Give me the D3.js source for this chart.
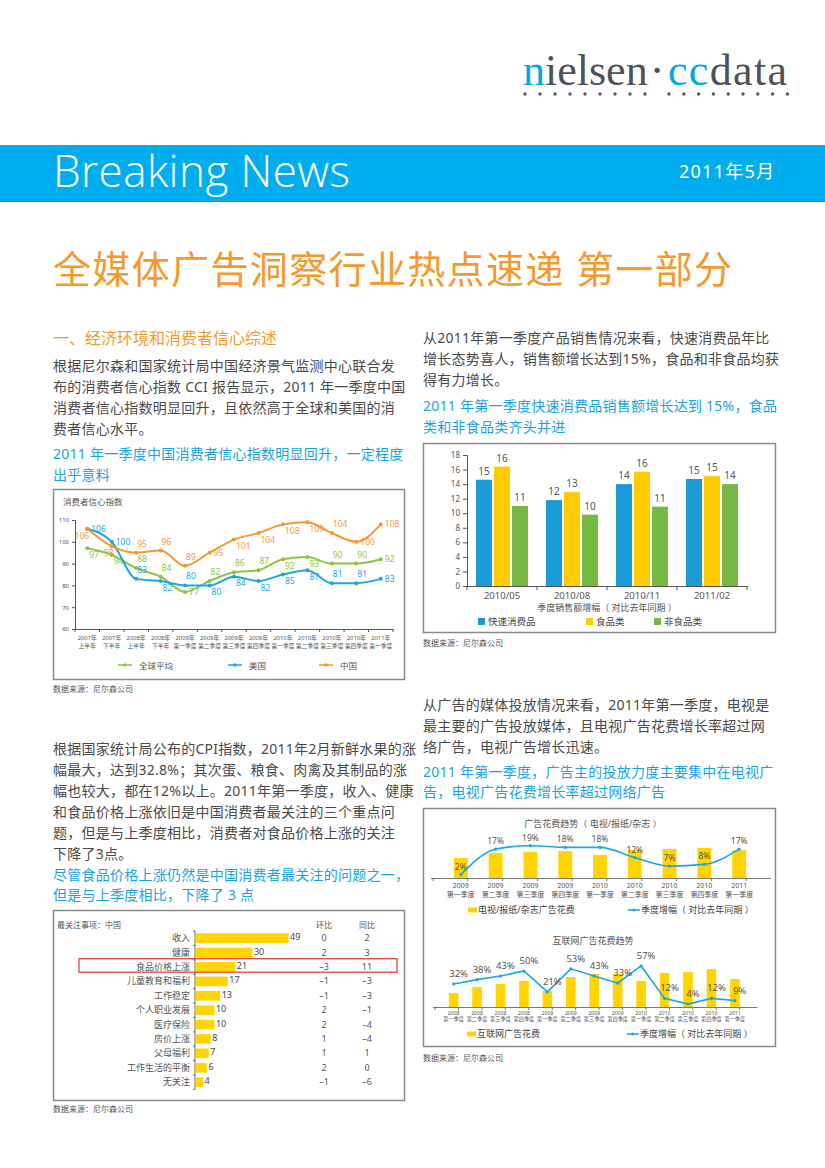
<!DOCTYPE html>
<html><head><meta charset="utf-8">
<script src="https://cdn.jsdelivr.net/npm/d3@7"></script>
<style>
body{margin:0;background:#fff;}
svg{display:block;font-family:"Noto Sans","Noto Sans CJK SC",sans-serif;}
</style></head><body>
<svg id="page" width="825" height="1168"></svg>
<script>
// ---------------- DATA ----------------
const cciPeriods = ["2007年|上半年","2007年|下半年","2008年|上半年","2008年|下半年","2009年|第一季度","2009年|第二季度","2009年|第三季度","2009年|第四季度","2010年|第一季度","2010年|第二季度","2010年|第三季度","2010年|第四季度","2011年|第一季度"];
const cciGlobal = [97,94,88,84,77,82,86,87,92,93,90,90,92];
const cciUS     = [106,100,83,82,80,80,84,82,85,87,81,81,83];
const cciChina  = [106,98,95,96,89,95,101,104,108,109,104,100,108];
const cciTicks  = [60,70,80,90,100,110];
const cciSeriesNames = ["全球平均","美国","中国"];

const salesPeriods = ["2010/05","2010/08","2010/11","2011/02"];
const salesFMCG    = [14.6,11.8,14.0,14.7];
const salesFood    = [16.4,12.9,15.7,15.1];
const salesNonFood = [11.0,9.8,10.9,14.0];
const salesTicks   = [0,2,4,6,8,10,12,14,16,18];
const salesSeriesNames = ["快速消费品","食品类","非食品类"];

const concernItems  = ["收入","健康","食品价格上涨","儿童教育和福利","工作稳定","个人职业发展","医疗保险","房价上涨","父母福利","工作生活的平衡","无关注"];
const concernValues = [49,30,21,17,13,10,10,8,7,6,4];
const concernQoQ    = [0,2,-3,-1,-1,2,2,1,1,2,-1];
const concernYoY    = [2,3,11,-3,-3,-1,-4,-4,1,0,-6];

const tvQuarters = ["2009|第一季度","2009|第二季度","2009|第三季度","2009|第四季度","2010|第一季度","2010|第二季度","2010|第三季度","2010|第四季度","2011|第一季度"];
const tvSpend    = [20,25,26,27,23,28,29,30,28];
const tvGrowth   = [2,17,19,18,18,12,7,8,17];

const netQuarters = ["2008|第一季度","2008|第二季度","2008|第三季度","2008|第四季度","2009|第一季度","2009|第二季度","2009|第三季度","2009|第四季度","2010|第一季度","2010|第二季度","2010|第三季度","2010|第四季度","2011|第一季度"];
const netSpend    = [14,20,23,26,16,30,33,33,26,34,35,38,28];
const netGrowth   = [32,38,43,50,21,53,43,33,57,12,4,12,9];

// ---------------- STYLE ----------------
const C = {
  blue:"#00adef", orange:"#f49a2c", text:"#4a4a4a", sub:"#1aa3e2", grey:"#666",
  lGreen:"#8cc63f", lBlue:"#1aa7e6", lOrange:"#f7962e",
  bBlue:"#1a9ad6", bYellow:"#ffcc00", bGreen:"#77b843", yellow:"#ffd400", red:"#e8453c"
};
const svg = d3.select("#page");
svg.append("rect").attr("width",825).attr("height",1168).attr("fill","#fff");

function txt(g, x, y, s, size, fill, anchor) {
  return g.append("text").attr("x",x).attr("y",y).attr("font-size",size)
    .attr("fill",fill).attr("text-anchor",anchor||"start").text(s);
}
function lines(g, arr, x, y, lh, size, fill) {
  arr.forEach((s,i)=>txt(g,x,y+i*lh,s,size,fill).attr("letter-spacing",0.25));
}
const minus = v => String(v).replace("-","–");

// ---------------- HEADER ----------------
const hd = svg.append("g");
const logo = hd.append("text").attr("x",523).attr("y",85).attr("font-family","Liberation Serif, serif").attr("font-size",44).attr("fill","#4f5157");
logo.append("tspan").attr("fill","#00a9e0").text("n");
logo.append("tspan").text("ielsen");
txt(hd,657,85,"·",44,"#4f5157","middle").attr("font-family","Liberation Serif, serif");
const logo2 = hd.append("text").attr("x",668).attr("y",85).attr("font-family","Liberation Serif, serif").attr("font-size",44).attr("fill","#4f5157").attr("textLength",119);
logo2.append("tspan").attr("fill","#00a9e0").text("cc");
logo2.append("tspan").text("data");
const dotXs = d3.range(9).map(i=>525+i*15).concat(d3.range(9).map(i=>669+i*14.8));
hd.selectAll("circle.ld").data(dotXs).join("circle").attr("cx",d=>d).attr("cy",94).attr("r",1.7).attr("fill","#555a60");

hd.append("rect").attr("x",0).attr("y",145).attr("width",825).attr("height",57).attr("fill",C.blue);
txt(hd,53,187,"Breaking News",44,"#fff").attr("font-family","Open Sans, sans-serif").attr("font-weight",300).attr("textLength",297);
txt(hd,679,178,"2011年5月",18,"#fff").attr("textLength",95);
txt(hd,53,283,"全媒体广告洞察行业热点速递 第一部分",38,C.orange).attr("textLength",679);

// ---------------- TEXT BLOCKS ----------------
const tb = svg.append("g");
txt(tb,53,344,"一、经济环境和消费者信心综述",16,C.orange);
lines(tb,["根据尼尔森和国家统计局中国经济景气监测中心联合发","布的消费者信心指数 CCI 报告显示，2011 年一季度中国","消费者信心指数明显回升，且依然高于全球和美国的消","费者信心水平。"],53,371,21,14,C.text);
lines(tb,["2011 年一季度中国消费者信心指数明显回升，一定程度","出乎意料"],53,459,21,14,C.sub);

lines(tb,["从2011年第一季度产品销售情况来看，快速消费品年比","增长态势喜人，销售额增长达到15%，食品和非食品均获","得有力增长。"],423,343,21,14,C.text);
lines(tb,["2011 年第一季度快速消费品销售额增长达到 15%，食品","类和非食品类齐头并进"],423,411,21,14,C.sub);

lines(tb,["根据国家统计局公布的CPI指数，2011年2月新鲜水果的涨","幅最大，达到32.8%；其次蛋、粮食、肉禽及其制品的涨","幅也较大，都在12%以上。2011年第一季度，收入、健康","和食品价格上涨依旧是中国消费者最关注的三个重点问","题，但是与上季度相比，消费者对食品价格上涨的关注","下降了3点。"],53,754,21,14,C.text);
lines(tb,["尽管食品价格上涨仍然是中国消费者最关注的问题之一，","但是与上季度相比，下降了 3 点"],53,880,19.5,14,C.sub);

lines(tb,["从广告的媒体投放情况来看，2011年第一季度，电视是","最主要的广告投放媒体，且电视广告花费增长率超过网","络广告，电视广告增长迅速。"],423,710,21,14,C.text);
lines(tb,["2011 年第一季度，广告主的投放力度主要集中在电视广","告，电视广告花费增长率超过网络广告"],423,777,20,14,C.sub);

// source notes
[[53,692],[423,646],[53,1112],[423,1061]].forEach(([x,y])=>txt(tb,x,y,"数据来源：尼尔森公司",8,"#555"));

function cleanAxis(a, size){
  a.attr("font-family",null).attr("font-size",null);
  a.selectAll("text").attr("font-size",size).attr("fill","#555");
  a.selectAll("line,path").attr("stroke","#555");
}

// ---------------- CCI LINE CHART ----------------
const cc = svg.append("g");
cc.append("rect").attr("x",53.5).attr("y",489.5).attr("width",351).attr("height",190).attr("fill","none").attr("stroke","#8a8a8a").attr("stroke-width",1.5);
txt(cc,63,505,"消费者信心指数",8.5,"#555");
const cx = d3.scaleBand().domain(d3.range(cciPeriods.length)).range([75,393]);
const cy = d3.scaleLinear().domain([60,110]).range([629,520]);
const cyAx = cc.append("g").attr("transform","translate(75,0)").call(d3.axisLeft(cy).tickValues(cciTicks).tickSize(3).tickPadding(3));
cleanAxis(cyAx,6);
const cxAx = cc.append("g").attr("transform","translate(0,629)").call(d3.axisBottom(cx).tickSize(0).tickFormat(""));
cleanAxis(cxAx,6);
cc.selectAll("line.cxt").data(d3.range(cciPeriods.length+1)).join("line")
  .attr("x1",i=>75+i*cx.step()).attr("x2",i=>75+i*cx.step()).attr("y1",629).attr("y2",632).attr("stroke","#555");
cciPeriods.forEach((p,i)=>{
  const [a,b] = p.split("|");
  const xc = cx(i)+cx.bandwidth()/2;
  txt(cc,xc,640,a,5.8,"#555","middle");
  txt(cc,xc,648,b,5.8,"#555","middle");
});
const cciSeries = [
  {vals:cciGlobal, color:C.lGreen, sides:["b","b","a","a","r","a","a","a","b","b","a","a","r"]},
  {vals:cciUS, color:C.lBlue, sides:["r","r","a","b","a","b","b","b","b","b","a","a","r"]},
  {vals:cciChina, color:C.lOrange, sides:["bl","bl","a","a","a","r","b","b","b","b","a","r","r"]}
];
const cline = d3.line().x((d,i)=>cx(i)+cx.bandwidth()/2).y(d=>cy(d)).curve(d3.curveMonotoneX);
const off = {a:[1,-6,"start"], b:[2,9.5,"start"], r:[4,3,"start"], bl:[2,10,"end"]};
cciSeries.forEach(s=>{
  cc.append("path").attr("d",cline(s.vals)).attr("fill","none").attr("stroke",s.color).attr("stroke-width",2);
  cc.selectAll(null).data(s.vals).join("circle").attr("cx",(d,i)=>cx(i)+cx.bandwidth()/2).attr("cy",d=>cy(d)).attr("r",2).attr("fill",s.color);
  cc.selectAll(null).data(s.vals).join("text")
    .attr("x",(d,i)=>cx(i)+cx.bandwidth()/2+off[s.sides[i]][0])
    .attr("y",(d,i)=>cy(d)+off[s.sides[i]][1])
    .attr("text-anchor",(d,i)=>off[s.sides[i]][2])
    .attr("font-size",8.5).attr("fill",s.color).text(d=>d);
});
[[118,C.lGreen],[228,C.lBlue],[319,C.lOrange]].forEach(([x,col],i)=>{
  cc.append("line").attr("x1",x).attr("x2",x+14).attr("y1",665).attr("y2",665).attr("stroke",col).attr("stroke-width",1.5);
  cc.append("circle").attr("cx",x+7).attr("cy",665).attr("r",1.8).attr("fill",col);
  txt(cc,x+21,668.5,cciSeriesNames[i],8.5,"#555");
});

// ---------------- SALES BAR CHART ----------------
const sb = svg.append("g");
sb.append("rect").attr("x",423.5).attr("y",443.5).attr("width",352).attr("height",189).attr("fill","none").attr("stroke","#8a8a8a").attr("stroke-width",1.5);
const sx0 = d3.scaleBand().domain(salesPeriods).range([467,747]);
const sx1 = d3.scaleBand().domain([0,1,2]).range([9,61]).paddingInner(0.111);
const sy = d3.scaleLinear().domain([0,18]).range([586,455]);
const syAx = sb.append("g").attr("transform","translate(467,0)").call(d3.axisLeft(sy).tickValues(salesTicks).tickSize(4).tickPadding(3));
cleanAxis(syAx,8);
const sxAx = sb.append("g").attr("transform","translate(0,586)").call(d3.axisBottom(sx0).tickSize(0).tickPadding(6));
cleanAxis(sxAx,9.5);
sb.selectAll("line.sxt").data(d3.range(salesPeriods.length+1)).join("line")
  .attr("x1",i=>467+i*sx0.step()).attr("x2",i=>467+i*sx0.step()).attr("y1",586).attr("y2",590).attr("stroke","#555");
const salesSeries = [salesFMCG, salesFood, salesNonFood];
const salesColors = [C.bBlue, C.bYellow, C.bGreen];
salesSeries.forEach((vals,k)=>{
  sb.selectAll(null).data(vals).join("rect")
    .attr("x",(d,i)=>sx0(salesPeriods[i])+sx1(k)).attr("width",sx1.bandwidth())
    .attr("y",d=>sy(d)).attr("height",d=>sy(0)-sy(d)).attr("fill",salesColors[k]);
  sb.selectAll(null).data(vals).join("text")
    .attr("x",(d,i)=>sx0(salesPeriods[i])+sx1(k)+sx1.bandwidth()/2).attr("y",d=>sy(d)-5)
    .attr("text-anchor","middle").attr("font-size",10).attr("fill","#555").text(d=>Math.round(d));
});
txt(sb,607,611,"季度销售额增幅（ 对比去年同期 ）",9,"#555","middle");
[[478,0],[586,1],[654,2]].forEach(([x,k])=>{
  sb.append("rect").attr("x",x).attr("y",618).attr("width",7).attr("height",7).attr("fill",salesColors[k]);
  txt(sb,x+10,625,salesSeriesNames[k],9.5,"#444");
});

// ---------------- CONCERNS H-BAR CHART ----------------
const hb = svg.append("g");
hb.append("rect").attr("x",53.5).attr("y",910.5).attr("width",351).attr("height",190).attr("fill","none").attr("stroke","#8a8a8a").attr("stroke-width",1.5);
txt(hb,57,928,"最关注事项：中国",8,"#555");
txt(hb,324,928,"环比",8,"#555","middle");
txt(hb,367,928,"同比",8,"#555","middle");
const hy = d3.scaleBand().domain(concernItems).range([931,1089.4]).paddingInner(0.33).paddingOuter(0.165);
const hx = d3.scaleLinear().domain([0,49]).range([195,288]);
hb.append("line").attr("x1",195).attr("x2",195).attr("y1",931).attr("y2",1089).attr("stroke","#666");
hb.selectAll("line.ht").data(d3.range(concernItems.length+1)).join("line")
  .attr("x1",193).attr("x2",195).attr("y1",i=>931+i*hy.step()).attr("y2",i=>931+i*hy.step()).attr("stroke","#666");
hb.selectAll("rect.hbar").data(concernValues).join("rect")
  .attr("x",hx(0)+0.5).attr("y",(d,i)=>hy(concernItems[i])).attr("height",hy.bandwidth())
  .attr("width",d=>hx(d)-hx(0)).attr("fill",C.yellow);
concernItems.forEach((c,i)=>{
  const yc = hy(c)+hy.bandwidth()/2+3;
  txt(hb,190,yc,c,9,"#555","end");
  txt(hb,hx(concernValues[i])+2,yc-1,concernValues[i],9,"#444");
  txt(hb,324,yc,minus(concernQoQ[i]),9,"#555","middle");
  txt(hb,367,yc,minus(concernYoY[i]),9,"#555","middle");
});
hb.append("rect").attr("x",79).attr("y",hy(concernItems[2])-3.5).attr("width",318).attr("height",13.5)
  .attr("fill","none").attr("stroke",C.red).attr("stroke-width",1.3);

// ---------------- AD SPEND CHARTS ----------------
const ad = svg.append("g");
ad.append("rect").attr("x",423.5).attr("y",808.5).attr("width",352).attr("height",238).attr("fill","none").attr("stroke","#8a8a8a").attr("stroke-width",1.5);

function comboChart(cfg){
  const bx = d3.scaleBand().domain(cfg.cats).range(cfg.xr).padding(cfg.pad);
  const by = d3.scaleLinear().domain([0,cfg.barMax]).range([cfg.base,cfg.top]);
  const ly = d3.scaleLinear().domain([0,cfg.lineMax]).range([cfg.base,cfg.top]);
  txt(ad,593,cfg.titleY,cfg.title,9,"#555","middle");
  ad.selectAll(null).data(cfg.bars).join("rect")
    .attr("x",(d,i)=>bx(cfg.cats[i])).attr("width",bx.bandwidth())
    .attr("y",d=>by(d)).attr("height",d=>by(0)-by(d)).attr("fill",C.yellow);
  ad.append("line").attr("x1",cfg.xr[0]-2).attr("x2",cfg.xr[1]+4).attr("y1",cfg.base+0.5).attr("y2",cfg.base+0.5).attr("stroke","#777");
  ad.selectAll(null).data(d3.range(cfg.cats.length+1)).join("line")
    .attr("x1",i=>cfg.xr[0]+i*bx.step()).attr("x2",i=>cfg.xr[0]+i*bx.step())
    .attr("y1",cfg.base).attr("y2",cfg.base+3).attr("stroke","#777");
  const cxp = i=>bx(cfg.cats[i])+bx.bandwidth()/2;
  const ln = d3.line().x((d,i)=>cxp(i)).y(d=>ly(d)).curve(cfg.curve);
  ad.append("path").attr("d",ln(cfg.line)).attr("fill","none").attr("stroke",C.lBlue).attr("stroke-width",1.6);
  ad.selectAll(null).data(cfg.line).join("circle").attr("cx",(d,i)=>cxp(i)).attr("cy",d=>ly(d)).attr("r",1.6).attr("fill",C.lBlue);
  ad.selectAll(null).data(cfg.line).join("text")
    .attr("x",(d,i)=>cxp(i)+cfg.lblDx).attr("y",d=>ly(d)-cfg.lblDy)
    .attr("text-anchor","middle").attr("font-size",cfg.lblSize).attr("fill","#555").text(d=>d+"%");
  cfg.cats.forEach((c,i)=>{
    const [a,b] = c.split("|");
    txt(ad,cxp(i),cfg.base+cfg.xl1,a,cfg.xlSize,"#555","middle");
    txt(ad,cxp(i),cfg.base+cfg.xl2,b,cfg.xlSize,"#555","middle");
  });
  ad.append("rect").attr("x",cfg.legX).attr("y",cfg.legY-2.5).attr("width",9).attr("height",5).attr("fill",C.yellow);
  txt(ad,cfg.legX+10,cfg.legY+3.2,cfg.leg1,9,"#444");
  ad.append("line").attr("x1",cfg.leg2X).attr("x2",cfg.leg2X+12).attr("y1",cfg.legY).attr("y2",cfg.legY).attr("stroke",C.lBlue).attr("stroke-width",1.6);
  ad.append("circle").attr("cx",cfg.leg2X+6).attr("cy",cfg.legY).attr("r",1.5).attr("fill",C.lBlue);
  txt(ad,cfg.leg2X+13,cfg.legY+3.2,"季度增幅（ 对比去年同期 ）",9,"#444");
}
comboChart({cats:tvQuarters, bars:tvSpend, line:tvGrowth, xr:[433,767], pad:0.6, base:878, top:843,
  barMax:35, lineMax:20.6, curve:d3.curveMonotoneX, title:"广告花费趋势（ 电视/报纸/杂志 ）", titleY:827,
  lblDx:0, lblDy:5, lblSize:8.5, xl1:10, xl2:19, xlSize:7, legX:468, legY:910, leg2X:628, leg1:"电视/报纸/杂志广告花费"});
comboChart({cats:netQuarters, bars:netSpend, line:netGrowth, xr:[435,753.5], pad:0.59, base:1007, top:964,
  barMax:43, lineMax:59.7, curve:d3.curveLinear, title:"互联网广告花费趋势", titleY:944,
  lblDx:5, lblDy:7, lblSize:9.5, xl1:7.5, xl2:14, xlSize:5.2, legX:467, legY:1034, leg2X:627, leg1:"互联网广告花费"});
</script>
</body></html>
